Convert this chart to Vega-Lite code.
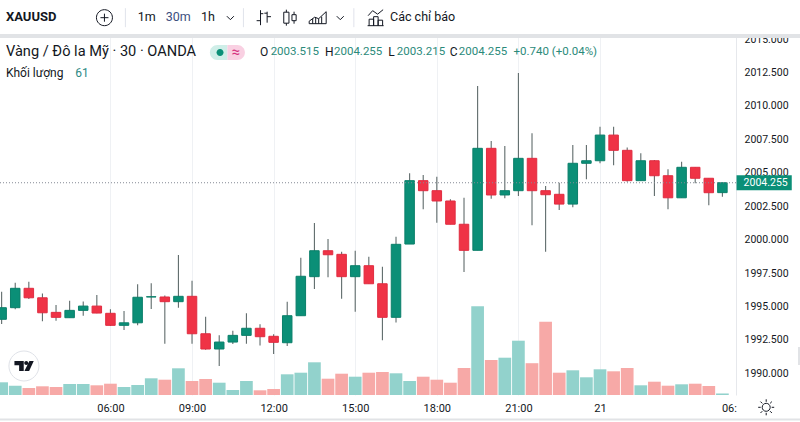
{
  "$schema": "https://vega.github.io/schema/vega-lite/v6.json",
  "width": 736,
  "height": 359,
  "autosize": "none",
  "padding": {"left": 0, "top": 36, "right": 64, "bottom": 27},
  "background": "#ffffff",
  "config": {
    "view": {"stroke": null},
    "font": "Roboto",
    "axisY": {
      "orient": "right",
      "title": null,
      "format": ".3f",
      "labelFontSize": 10.5,
      "labelColor": "#131722",
      "labelPadding": 8,
      "labelFlush": false,
      "labelOverlap": false,
      "ticks": false,
      "domainColor": "#e6e8ec",
      "grid": true,
      "gridColor": "#eff1f4"
    }
  },
  "datasets": {
    "candles": [
      {"t": 2, "open": 1994.04, "high": 1996.1, "low": 1993.69, "close": 1994.91, "volume": 508},
      {"t": 2.5, "open": 1994.91, "high": 1996.78, "low": 1994.79, "close": 1996.36, "volume": 372},
      {"t": 3, "open": 1996.36, "high": 1996.85, "low": 1995.56, "close": 1995.65, "volume": 280},
      {"t": 3.5, "open": 1995.65, "high": 1995.98, "low": 1993.89, "close": 1994.53, "volume": 348},
      {"t": 4, "open": 1994.56, "high": 1995.11, "low": 1993.93, "close": 1994.19, "volume": 320},
      {"t": 4.5, "open": 1994.16, "high": 1995.43, "low": 1994.16, "close": 1994.71, "volume": 440},
      {"t": 5, "open": 1994.71, "high": 1995.38, "low": 1994.31, "close": 1995.03, "volume": 440},
      {"t": 5.5, "open": 1995.03, "high": 1995.86, "low": 1994.49, "close": 1994.51, "volume": 388},
      {"t": 6, "open": 1994.49, "high": 1994.79, "low": 1993.54, "close": 1993.59, "volume": 452},
      {"t": 6.5, "open": 1993.59, "high": 1994.66, "low": 1993.24, "close": 1993.78, "volume": 320},
      {"t": 7, "open": 1993.78, "high": 1996.66, "low": 1993.59, "close": 1995.69, "volume": 400},
      {"t": 7.5, "open": 1995.71, "high": 1996.73, "low": 1994.81, "close": 1995.73, "volume": 668},
      {"t": 8, "open": 1995.71, "high": 1995.83, "low": 1992.21, "close": 1995.36, "volume": 612},
      {"t": 8.5, "open": 1995.36, "high": 1998.85, "low": 1994.91, "close": 1995.76, "volume": 1068},
      {"t": 9, "open": 1995.76, "high": 1996.93, "low": 1992.21, "close": 1992.96, "volume": 560},
      {"t": 9.5, "open": 1992.96, "high": 1994.23, "low": 1991.77, "close": 1991.82, "volume": 640},
      {"t": 10, "open": 1991.82, "high": 1992.84, "low": 1990.55, "close": 1992.34, "volume": 492},
      {"t": 10.5, "open": 1992.34, "high": 1993.19, "low": 1992.19, "close": 1992.84, "volume": 200},
      {"t": 11, "open": 1992.84, "high": 1994.49, "low": 1992.21, "close": 1993.37, "volume": 560},
      {"t": 11.5, "open": 1993.37, "high": 1993.67, "low": 1992.09, "close": 1992.74, "volume": 188},
      {"t": 12, "open": 1992.77, "high": 1992.92, "low": 1991.44, "close": 1992.32, "volume": 240},
      {"t": 12.5, "open": 1992.29, "high": 1995.36, "low": 1992.04, "close": 1994.31, "volume": 828},
      {"t": 13, "open": 1994.31, "high": 1998.65, "low": 1994.31, "close": 1997.26, "volume": 892},
      {"t": 13.5, "open": 1997.23, "high": 2001.24, "low": 1996.31, "close": 1999.17, "volume": 1308},
      {"t": 14, "open": 1999.17, "high": 2000.05, "low": 1997.18, "close": 1998.87, "volume": 652},
      {"t": 14.5, "open": 1998.9, "high": 1999.1, "low": 1995.58, "close": 1997.23, "volume": 852},
      {"t": 15, "open": 1997.23, "high": 1999.17, "low": 1994.61, "close": 1998.05, "volume": 732},
      {"t": 15.5, "open": 1998.05, "high": 1998.72, "low": 1996.7, "close": 1996.7, "volume": 892},
      {"t": 16, "open": 1996.7, "high": 1997.97, "low": 1992.47, "close": 1994.19, "volume": 920},
      {"t": 16.5, "open": 1994.19, "high": 2000.22, "low": 1993.81, "close": 1999.65, "volume": 868},
      {"t": 17, "open": 1999.67, "high": 2004.96, "low": 1999.67, "close": 2004.41, "volume": 560},
      {"t": 17.5, "open": 2004.41, "high": 2004.83, "low": 2002.27, "close": 2003.66, "volume": 732},
      {"t": 18, "open": 2003.66, "high": 2004.71, "low": 2001.26, "close": 2002.89, "volume": 612},
      {"t": 18.5, "open": 2002.89, "high": 2003.02, "low": 2001.15, "close": 2001.15, "volume": 492},
      {"t": 19, "open": 2001.15, "high": 2003.13, "low": 1997.58, "close": 1999.2, "volume": 1080},
      {"t": 19.5, "open": 1999.2, "high": 2011.49, "low": 1999.2, "close": 2006.83, "volume": 3548},
      {"t": 20, "open": 2006.83, "high": 2007.38, "low": 2003.06, "close": 2003.34, "volume": 1400},
      {"t": 20.5, "open": 2003.34, "high": 2007, "low": 2003.09, "close": 2003.66, "volume": 1492},
      {"t": 21, "open": 2003.66, "high": 2012.46, "low": 2003.26, "close": 2006.08, "volume": 2172},
      {"t": 21.5, "open": 2006.08, "high": 2007.95, "low": 2001.07, "close": 2003.66, "volume": 1272},
      {"t": 22, "open": 2003.66, "high": 2004.01, "low": 1999.1, "close": 2003.36, "volume": 2932},
      {"t": 22.5, "open": 2003.39, "high": 2004.26, "low": 2002.22, "close": 2002.66, "volume": 892},
      {"t": 23, "open": 2002.66, "high": 2007.08, "low": 2002.42, "close": 2005.71, "volume": 988},
      {"t": 23.5, "open": 2005.71, "high": 2007.08, "low": 2004.51, "close": 2005.9, "volume": 708},
      {"t": 24, "open": 2005.9, "high": 2008.45, "low": 2005.71, "close": 2007.82, "volume": 1028},
      {"t": 24.5, "open": 2007.82, "high": 2008.45, "low": 2005.56, "close": 2006.68, "volume": 948},
      {"t": 25, "open": 2006.68, "high": 2006.9, "low": 2004.33, "close": 2004.41, "volume": 1080},
      {"t": 25.5, "open": 2004.41, "high": 2006.46, "low": 2004.41, "close": 2005.9, "volume": 388},
      {"t": 26, "open": 2005.9, "high": 2005.96, "low": 2003.26, "close": 2004.78, "volume": 532},
      {"t": 26.5, "open": 2004.78, "high": 2005.26, "low": 2002.27, "close": 2003.13, "volume": 372},
      {"t": 27, "open": 2003.13, "high": 2005.83, "low": 2003.13, "close": 2005.41, "volume": 428},
      {"t": 27.5, "open": 2005.41, "high": 2005.41, "low": 2004.21, "close": 2004.59, "volume": 452},
      {"t": 28, "open": 2004.59, "high": 2004.59, "low": 2002.57, "close": 2003.51, "volume": 360},
      {"t": 28.5, "open": 2003.515, "high": 2004.255, "low": 2003.215, "close": 2004.255, "volume": 61}
    ],
    "lastPrice": [{"t": 1.94, "t1": 29, "p": 2004.255}],
    "panels": [
      {"part": "toolbar", "t": 1.94, "t1": 31.4, "p0": 2015.38, "p1": 2017.92},
      {"part": "band", "t": 1.94, "t1": 31.4, "p0": 2015.08, "p1": 2015.38},
      {"part": "band", "t": 1.94, "t1": 31.4, "p0": 1986.47, "p1": 1986.62},
      {"part": "band", "t": 31.28, "t1": 31.4, "p0": 1990.62, "p1": 1991.97},
      {"part": "tag", "t": 29.02, "t1": 31.05, "p0": 2003.7, "p1": 2004.81}
    ],
    "icons": [
      {"icon": "disc", "t": 2.82, "p": 1990.55},
      {"icon": "logo", "t": 2.82, "p": 1990.55},
      {"icon": "pillLeft", "t": 10.3, "p": 2014},
      {"icon": "pillRight", "t": 10.3, "p": 2014},
      {"icon": "dot", "t": 10.03, "p": 2014}
    ],
    "outlines": [
      {"icon": "disc", "t": 2.82, "p": 1990.55},
      {"icon": "plus", "t": 5.78, "p": 2016.6},
      {"icon": "sep", "t": 6.55, "p": 2016.6},
      {"icon": "chevron", "t": 10.41, "p": 2016.6},
      {"icon": "sep", "t": 10.89, "p": 2016.6},
      {"icon": "bars", "t": 11.64, "p": 2016.6},
      {"icon": "candle", "t": 12.63, "p": 2016.6},
      {"icon": "area", "t": 13.62, "p": 2016.6},
      {"icon": "chevron", "t": 14.45, "p": 2016.6},
      {"icon": "sep", "t": 14.95, "p": 2016.6},
      {"icon": "chart", "t": 15.75, "p": 2016.6},
      {"icon": "sun", "t": 30.11, "p": 1987.46}
    ],
    "labels": [
      {"label": "1m", "role": "tool", "t": 7.0, "p": 2016.65},
      {"label": "30m", "role": "active", "t": 8.03, "p": 2016.65},
      {"label": "1h", "role": "tool", "t": 9.33, "p": 2016.65},
      {"label": "Các chỉ báo", "role": "tool", "t": 16.28, "p": 2016.65},
      {"label": "Vàng / Đô la Mỹ · 30 · OANDA", "role": "name", "t": 2.158, "p": 2014.03},
      {"label": "≈", "role": "badge", "t": 10.45, "p": 2014.03},
      {"label": "O", "role": "key", "t": 11.5, "p": 2014.03},
      {"label": "2003.515", "role": "value", "t": 11.89, "p": 2014.03},
      {"label": "H", "role": "key", "t": 13.89, "p": 2014.03},
      {"label": "2004.255", "role": "value", "t": 14.22, "p": 2014.03},
      {"label": "L", "role": "key", "t": 16.21, "p": 2014.03},
      {"label": "2003.215", "role": "value", "t": 16.53, "p": 2014.03},
      {"label": "C", "role": "key", "t": 18.48, "p": 2014.03},
      {"label": "2004.255", "role": "value", "t": 18.81, "p": 2014.03},
      {"label": "+0.740 (+0.04%)", "role": "value", "t": 20.82, "p": 2014.03},
      {"label": "Khối lượng", "role": "study", "t": 2.158, "p": 2012.43},
      {"label": "61", "role": "studyValue", "t": 4.71, "p": 2012.43},
      {"label": "2004.255", "role": "last", "t": 29.28, "p": 2004.255}
    ],
    "symbol": [{"label": "XAUUSD", "t": 2.158, "p": 2016.65}]
  },
  "data": {"name": "candles"},
  "encoding": {
    "x": {
      "field": "t",
      "type": "quantitative",
      "title": null,
      "scale": {"domain": [1.94, 29], "nice": false, "zero": false, "padding": 0},
      "axis": {
        "values": [6, 9, 12, 15, 18, 21, 24, 28.74],
        "labelExpr": "datum.value == 24 ? '21' : datum.value > 28 ? '06:' : (datum.value < 10 ? '0' : '') + datum.value + ':00'",
        "domain": false,
        "ticks": false,
        "labelPadding": 7,
        "labelFontSize": 11,
        "labelColor": "#131722",
        "labelFlush": false,
        "labelOverlap": false,
        "grid": true,
        "gridColor": "#eff1f4",
        "gridOpacity": {"condition": {"test": "datum.value > 28", "value": 0}, "value": 1}
      }
    }
  },
  "resolve": {"scale": {"y": "independent"}, "axis": {"y": "independent"}},
  "layer": [
    {
      "mark": {"type": "bar", "width": 12.7},
      "encoding": {
        "y": {"field": "volume", "type": "quantitative", "scale": {"domain": [0, 14360], "nice": false}, "axis": null},
        "fill": {"condition": {"test": "datum.close >= datum.open", "value": "#92d2cc"}, "value": "#f7a9a7"}
      }
    },
    {
      "layer": [
        {
          "mark": {"type": "rule", "strokeWidth": 1.1, "color": "#5f6b6b"},
          "encoding": {
            "y": {
              "field": "low",
              "type": "quantitative",
              "scale": {"domain": [1988.38, 2015.23], "nice": false, "zero": false},
              "axis": {"values": [1990, 1992.5, 1995, 1997.5, 2000, 2002.5, 2005, 2007.5, 2010, 2012.5, 2015]}
            },
            "y2": {"field": "high"}
          }
        },
        {
          "mark": {"type": "bar", "width": 9.5, "strokeWidth": 1},
          "encoding": {
            "y": {
              "field": "open",
              "type": "quantitative",
              "scale": {"domain": [1988.38, 2015.23], "nice": false, "zero": false},
              "axis": {"values": [1990, 1992.5, 1995, 1997.5, 2000, 2002.5, 2005, 2007.5, 2010, 2012.5, 2015]}
            },
            "y2": {"field": "close"},
            "fill": {"condition": {"test": "datum.close >= datum.open", "value": "#0b8f77"}, "value": "#ef3346"},
            "stroke": {"condition": {"test": "datum.close >= datum.open", "value": "#0b7f6a"}, "value": "#e02c40"}
          }
        },
        {
          "data": {"name": "lastPrice"},
          "mark": {"type": "rule", "color": "#858a94", "strokeWidth": 1, "strokeDash": [1, 2]},
          "encoding": {
            "x2": {"field": "t1"},
            "y": {
              "field": "p",
              "type": "quantitative",
              "scale": {"domain": [1988.38, 2015.23], "nice": false, "zero": false},
              "axis": {"values": [1990, 1992.5, 1995, 1997.5, 2000, 2002.5, 2005, 2007.5, 2010, 2012.5, 2015]}
            }
          }
        },
        {
          "data": {"name": "panels"},
          "mark": {"type": "rect"},
          "encoding": {
            "x2": {"field": "t1"},
            "y": {
              "field": "p0",
              "type": "quantitative",
              "scale": {"domain": [1988.38, 2015.23], "nice": false, "zero": false},
              "axis": {"values": [1990, 1992.5, 1995, 1997.5, 2000, 2002.5, 2005, 2007.5, 2010, 2012.5, 2015]}
            },
            "y2": {"field": "p1"},
            "fill": {
              "field": "part",
              "type": "nominal",
              "legend": null,
              "scale": {
                "domain": ["toolbar", "band", "tag", "disc", "logo", "pillLeft", "pillRight", "dot"],
                "range": ["#ffffff", "#e1e3e6", "#0b8f77", "#ffffff", "#131722", "#cfeee8", "#f9d0e2", "#0b8f77"]
              }
            }
          }
        },
        {
          "data": {"name": "icons"},
          "mark": {"type": "point", "filled": true, "size": 400, "opacity": 1},
          "encoding": {
            "y": {
              "field": "p",
              "type": "quantitative",
              "scale": {"domain": [1988.38, 2015.23], "nice": false, "zero": false},
              "axis": {"values": [1990, 1992.5, 1995, 1997.5, 2000, 2002.5, 2005, 2007.5, 2010, 2012.5, 2015]}
            },
            "shape": {
              "field": "icon",
              "type": "nominal",
              "legend": null,
              "scale": {
                "domain": ["disc", "logo", "pillLeft", "pillRight", "dot", "plus", "sep", "chevron", "bars", "candle", "area", "chart", "sun"],
                "range": [
                  "M-1.5,0A1.5,1.5,0,1,1,1.5,0A1.5,1.5,0,1,1,-1.5,0Z",
                  "M-0.95,-0.5H-0.02V0.5H-0.48V-0.08H-0.95Z M0.03,-0.3A0.2,0.2,0,1,1,0.43,-0.3A0.2,0.2,0,1,1,0.03,-0.3Z M0.55,-0.5H0.98L0.52,0.5H0.05Z",
                  "M0,-0.75L-1,-0.75A0.75,0.75,0,0,0,-1,0.75L0,0.75Z",
                  "M0,-0.75L1,-0.75A0.75,0.75,0,0,1,1,0.75L0,0.75Z",
                  "M-0.35,0A0.35,0.35,0,1,1,0.35,0A0.35,0.35,0,1,1,-0.35,0Z",
                  "M-0.8,0A0.8,0.8,0,1,1,0.8,0A0.8,0.8,0,1,1,-0.8,0Z M-0.4,0L0.4,0 M0,-0.4L0,0.4",
                  "M0,-0.95V0.95",
                  "M-0.35,-0.15L0,0.2L0.35,-0.15",
                  "M-0.33,-0.75V0.75 M-0.33,0.3H-0.72 M-0.33,-0.4H-0.05 M0.33,-0.6V0.5 M0.33,-0.1H0.72 M0.33,-0.45H0.05",
                  "M-0.44,-0.8V-0.55 M-0.7,-0.55H-0.18V0.55H-0.7Z M-0.44,0.55V0.8 M0.33,-0.6V-0.3 M0.12,-0.3H0.54V0.3H0.12Z M0.33,0.3V0.6",
                  "M-0.85,0.35L-0.3,-0.05L0.1,0.1L0.85,-0.6V0.6H-0.85Z M-0.5,0.1V0.6 M-0.2,0V0.6 M0.1,0.1V0.6 M0.4,-0.1V0.6",
                  "M-0.75,-0.2L-0.3,-0.7L0.2,-0.35L0.75,-0.8 M-0.8,0.8H0.8 M-0.65,0.8V0.15H-0.2V0.8 M-0.2,0.8V-0.1H0.25V0.8 M0.25,0.8V0.25H0.7V0.8",
                  "M-0.4,0A0.4,0.4,0,1,1,0.4,0A0.4,0.4,0,1,1,-0.4,0Z M0,-0.8V-0.55 M0,0.55V0.8 M-0.8,0H-0.55 M0.55,0H0.8 M-0.57,-0.57L-0.39,-0.39 M0.39,0.39L0.57,0.57 M-0.57,0.57L-0.39,0.39 M0.39,-0.39L0.57,-0.57"
                ]
              }
            },
            "fill": {
              "field": "icon",
              "type": "nominal",
              "legend": null,
              "scale": {
                "domain": ["toolbar", "band", "tag", "disc", "logo", "pillLeft", "pillRight", "dot"],
                "range": ["#ffffff", "#e1e3e6", "#0b8f77", "#ffffff", "#131722", "#cfeee8", "#f9d0e2", "#0b8f77"]
              }
            }
          }
        },
        {
          "data": {"name": "outlines"},
          "mark": {"type": "point", "filled": false, "size": 400, "opacity": 1, "strokeWidth": 1},
          "encoding": {
            "y": {
              "field": "p",
              "type": "quantitative",
              "scale": {"domain": [1988.38, 2015.23], "nice": false, "zero": false},
              "axis": {"values": [1990, 1992.5, 1995, 1997.5, 2000, 2002.5, 2005, 2007.5, 2010, 2012.5, 2015]}
            },
            "shape": {
              "field": "icon",
              "type": "nominal",
              "legend": null,
              "scale": {
                "domain": ["disc", "logo", "pillLeft", "pillRight", "dot", "plus", "sep", "chevron", "bars", "candle", "area", "chart", "sun"],
                "range": [
                  "M-1.5,0A1.5,1.5,0,1,1,1.5,0A1.5,1.5,0,1,1,-1.5,0Z",
                  "M-0.95,-0.5H-0.02V0.5H-0.48V-0.08H-0.95Z M0.03,-0.3A0.2,0.2,0,1,1,0.43,-0.3A0.2,0.2,0,1,1,0.03,-0.3Z M0.55,-0.5H0.98L0.52,0.5H0.05Z",
                  "M0,-0.75L-1,-0.75A0.75,0.75,0,0,0,-1,0.75L0,0.75Z",
                  "M0,-0.75L1,-0.75A0.75,0.75,0,0,1,1,0.75L0,0.75Z",
                  "M-0.35,0A0.35,0.35,0,1,1,0.35,0A0.35,0.35,0,1,1,-0.35,0Z",
                  "M-0.8,0A0.8,0.8,0,1,1,0.8,0A0.8,0.8,0,1,1,-0.8,0Z M-0.4,0L0.4,0 M0,-0.4L0,0.4",
                  "M0,-0.95V0.95",
                  "M-0.35,-0.15L0,0.2L0.35,-0.15",
                  "M-0.33,-0.75V0.75 M-0.33,0.3H-0.72 M-0.33,-0.4H-0.05 M0.33,-0.6V0.5 M0.33,-0.1H0.72 M0.33,-0.45H0.05",
                  "M-0.44,-0.8V-0.55 M-0.7,-0.55H-0.18V0.55H-0.7Z M-0.44,0.55V0.8 M0.33,-0.6V-0.3 M0.12,-0.3H0.54V0.3H0.12Z M0.33,0.3V0.6",
                  "M-0.85,0.35L-0.3,-0.05L0.1,0.1L0.85,-0.6V0.6H-0.85Z M-0.5,0.1V0.6 M-0.2,0V0.6 M0.1,0.1V0.6 M0.4,-0.1V0.6",
                  "M-0.75,-0.2L-0.3,-0.7L0.2,-0.35L0.75,-0.8 M-0.8,0.8H0.8 M-0.65,0.8V0.15H-0.2V0.8 M-0.2,0.8V-0.1H0.25V0.8 M0.25,0.8V0.25H0.7V0.8",
                  "M-0.4,0A0.4,0.4,0,1,1,0.4,0A0.4,0.4,0,1,1,-0.4,0Z M0,-0.8V-0.55 M0,0.55V0.8 M-0.8,0H-0.55 M0.55,0H0.8 M-0.57,-0.57L-0.39,-0.39 M0.39,0.39L0.57,0.57 M-0.57,0.57L-0.39,0.39 M0.39,-0.39L0.57,-0.57"
                ]
              }
            },
            "stroke": {
              "field": "icon",
              "type": "nominal",
              "legend": null,
              "scale": {
                "domain": ["disc", "plus", "sep", "chevron", "bars", "candle", "area", "chart", "sun"],
                "range": ["#dfe2e8", "#131722", "#e0e3eb", "#131722", "#131722", "#131722", "#131722", "#131722", "#131722"]
              }
            }
          }
        },
        {
          "data": {"name": "labels"},
          "mark": {"type": "text", "align": "left", "baseline": "middle", "font": "Roboto"},
          "encoding": {
            "y": {
              "field": "p",
              "type": "quantitative",
              "scale": {"domain": [1988.38, 2015.23], "nice": false, "zero": false},
              "axis": {"values": [1990, 1992.5, 1995, 1997.5, 2000, 2002.5, 2005, 2007.5, 2010, 2012.5, 2015]}
            },
            "text": {"field": "label"},
            "color": {
              "field": "role",
              "type": "nominal",
              "legend": null,
              "scale": {
                "domain": ["tool", "active", "name", "badge", "key", "value", "study", "studyValue", "last"],
                "range": ["#131722", "#3c4f80", "#131722", "#d6337e", "#131722", "#2b8a7a", "#131722", "#2e8a85", "#ffffff"]
              }
            },
            "size": {
              "field": "role",
              "type": "nominal",
              "legend": null,
              "scale": {
                "type": "ordinal",
                "domain": ["tool", "active", "name", "badge", "key", "value", "study", "studyValue", "last"],
                "range": [12.5, 12.5, 14.6, 15, 12, 11.5, 12, 12, 10.5]
              }
            }
          }
        },
        {
          "data": {"name": "symbol"},
          "mark": {"type": "text", "align": "left", "baseline": "middle", "font": "Roboto", "fontWeight": "bold", "fontSize": 13, "color": "#131722"},
          "encoding": {
            "y": {
              "field": "p",
              "type": "quantitative",
              "scale": {"domain": [1988.38, 2015.23], "nice": false, "zero": false},
              "axis": {"values": [1990, 1992.5, 1995, 1997.5, 2000, 2002.5, 2005, 2007.5, 2010, 2012.5, 2015]}
            },
            "text": {"field": "label"}
          }
        }
      ]
    }
  ]
}
